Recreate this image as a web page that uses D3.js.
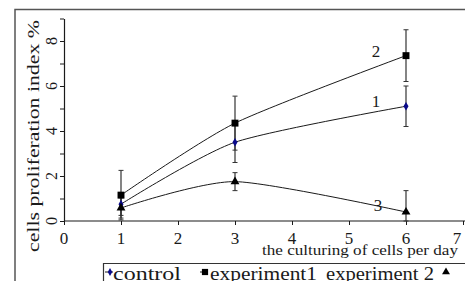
<!DOCTYPE html>
<html>
<head>
<meta charset="utf-8">
<script src="https://cdn.jsdelivr.net/npm/d3@7"></script>
<style>
  html, body { margin: 0; padding: 0; background: #fff; }
  svg { display: block; font-family: "Liberation Serif", "DejaVu Serif", serif; }
</style>
</head>
<body>
<div id="chart"></div>
<script>
const days = [1, 3, 6];
const control = [0.75, 3.5, 5.1];
const controlErr = [0.5, 0.9, 0.9];
const experiment1 = [1.15, 4.35, 7.35];
const experiment1Err = [1.1, 1.2, 1.15];
const experiment2 = [0.58, 1.75, 0.4];
const experiment2Err = [0.45, 0.4, 0.95];
const xTicks = [0, 1, 2, 3, 4, 5, 6, 7];
const yTicks = [0, 2, 4, 6, 8];
const yMinorTicks = [1, 3, 5, 7, 9];

const series = [
  { name: "control", label: "1", values: control, err: controlErr, marker: "diamond" },
  { name: "experiment1", label: "2", values: experiment1, err: experiment1Err, marker: "square" },
  { name: "experiment 2", label: "3", values: experiment2, err: experiment2Err, marker: "triangle" }
];

const width = 465, height = 281;
const ink = "#1a1a1a";

const svg = d3.select("#chart").append("svg")
  .attr("width", width)
  .attr("height", height);

const x = d3.scaleLinear().domain([0, 7]).range([64, 463]);
const y = d3.scaleLinear().domain([0, 9]).range([221, 18.5]);

// outer frame
svg.append("path")
  .attr("d", `M15,${height} V9.5 H${width}`)
  .attr("fill", "none")
  .attr("stroke", "#555")
  .attr("stroke-width", 1.5);

// y axis
const yAxis = svg.append("g")
  .attr("transform", `translate(${x(0)},0)`)
  .call(d3.axisLeft(y).tickValues(yTicks.concat(yMinorTicks)).tickSize(4).tickSizeOuter(0).tickFormat(""));
yAxis.select(".domain").attr("stroke", ink).attr("stroke-width", 1.2);
yAxis.selectAll(".tick line").attr("stroke", ink);

svg.selectAll(".ytl")
  .data(yTicks)
  .join("text")
  .attr("class", "ytl")
  .attr("transform", d => `translate(57,${y(d)}) rotate(-90)`)
  .attr("text-anchor", "middle")
  .attr("font-size", 16)
  .attr("fill", ink)
  .text(d => d);

svg.append("text")
  .attr("transform", `translate(39,136) rotate(-90)`)
  .attr("text-anchor", "middle")
  .attr("font-size", 16)
  .attr("fill", ink)
  .attr("textLength", 232)
  .attr("lengthAdjust", "spacingAndGlyphs")
  .text("cells  proliferation index %");

// x axis
const xAxis = svg.append("g")
  .attr("transform", `translate(0,${y(0)})`)
  .call(d3.axisBottom(x).tickValues(xTicks).tickSize(4).tickSizeOuter(0).tickFormat(""));
xAxis.select(".domain").attr("d", `M${x(0)},0H${width}`).attr("stroke", ink).attr("stroke-width", 1.2);
xAxis.selectAll(".tick line").attr("stroke", ink);

svg.selectAll(".xtl")
  .data(xTicks)
  .join("text")
  .attr("class", "xtl")
  .attr("x", d => Math.min(x(d), 457))
  .attr("y", 244)
  .attr("text-anchor", "middle")
  .attr("font-size", 17)
  .attr("fill", ink)
  .text(d => d);

svg.append("text")
  .attr("x", 262)
  .attr("y", 255)
  .attr("font-size", 14)
  .attr("fill", ink)
  .attr("textLength", 196)
  .attr("lengthAdjust", "spacingAndGlyphs")
  .text("the culturing of cells per day");

// curves
const line = d3.line()
  .x((d, i) => x(days[i]))
  .y(d => y(d))
  .curve(d3.curveCardinal.tension(0.3));

svg.selectAll(".curve")
  .data(series)
  .join("path")
  .attr("class", "curve")
  .attr("fill", "none")
  .attr("stroke", ink)
  .attr("stroke-width", 1)
  .attr("d", s => line(s.values));

// error bars
series.forEach(s => {
  const g = svg.append("g");
  s.values.forEach((v, i) => {
    const cx = x(days[i]);
    const lo = Math.max(0, v - s.err[i]), hi = v + s.err[i];
    g.append("line")
      .attr("x1", cx).attr("x2", cx)
      .attr("y1", y(lo)).attr("y2", y(hi))
      .attr("stroke", "#333").attr("stroke-width", 1.2);
    [lo, hi].forEach(e => {
      g.append("line")
        .attr("x1", cx - 2.5).attr("x2", cx + 2.5)
        .attr("y1", y(e)).attr("y2", y(e))
        .attr("stroke", "#333").attr("stroke-width", 1);
    });
  });
});

// markers
const symbolType = { diamond: d3.symbolDiamond, square: d3.symbolSquare, triangle: d3.symbolTriangle };
const symbolSize = { diamond: 22, square: 48, triangle: 34 };
const symbolFill = { diamond: "#0a0a8a", square: "#000", triangle: "#000" };

series.forEach(s => {
  svg.selectAll(null)
    .data(s.values)
    .join("path")
    .attr("transform", (d, i) => `translate(${x(days[i])},${y(d)})`)
    .attr("d", d3.symbol().type(symbolType[s.marker]).size(symbolSize[s.marker]))
    .attr("fill", symbolFill[s.marker]);
});

// curve number labels
const numLabels = [
  { text: "2", x: 376, y: 57 },
  { text: "1", x: 376, y: 107 },
  { text: "3", x: 378, y: 211 }
];
svg.selectAll(".num")
  .data(numLabels)
  .join("text")
  .attr("class", "num")
  .attr("x", d => d.x)
  .attr("y", d => d.y)
  .attr("text-anchor", "middle")
  .attr("font-size", 17)
  .attr("fill", ink)
  .text(d => d.text);

// legend
const legend = svg.append("g");
legend.append("path")
  .attr("d", `M103.5,${height} V263.5 H${width}`)
  .attr("fill", "none")
  .attr("stroke", "#333")
  .attr("stroke-width", 1.2);

const legendItems = [
  { s: series[0], mx: 110, tx: 113, tw: 68, before: true },
  { s: series[1], mx: 205, tx: 210, tw: 107, before: true },
  { s: series[2], mx: 446, tx: 326, tw: 108, before: false }
];
legendItems.forEach(it => {
  if (it.before) {
    legend.append("line")
      .attr("x1", it.mx - 5).attr("x2", it.mx + 3)
      .attr("y1", 272).attr("y2", 272)
      .attr("stroke", ink);
  }
  legend.append("path")
    .attr("transform", `translate(${it.mx},272)`)
    .attr("d", d3.symbol().type(symbolType[it.s.marker]).size(symbolSize[it.s.marker] * 0.8))
    .attr("fill", symbolFill[it.s.marker]);
  legend.append("text")
    .attr("x", it.tx)
    .attr("y", 280)
    .attr("font-size", 18)
    .attr("fill", ink)
    .attr("textLength", it.tw)
    .attr("lengthAdjust", "spacingAndGlyphs")
    .text(it.s.name);
});
</script>
</body>
</html>
